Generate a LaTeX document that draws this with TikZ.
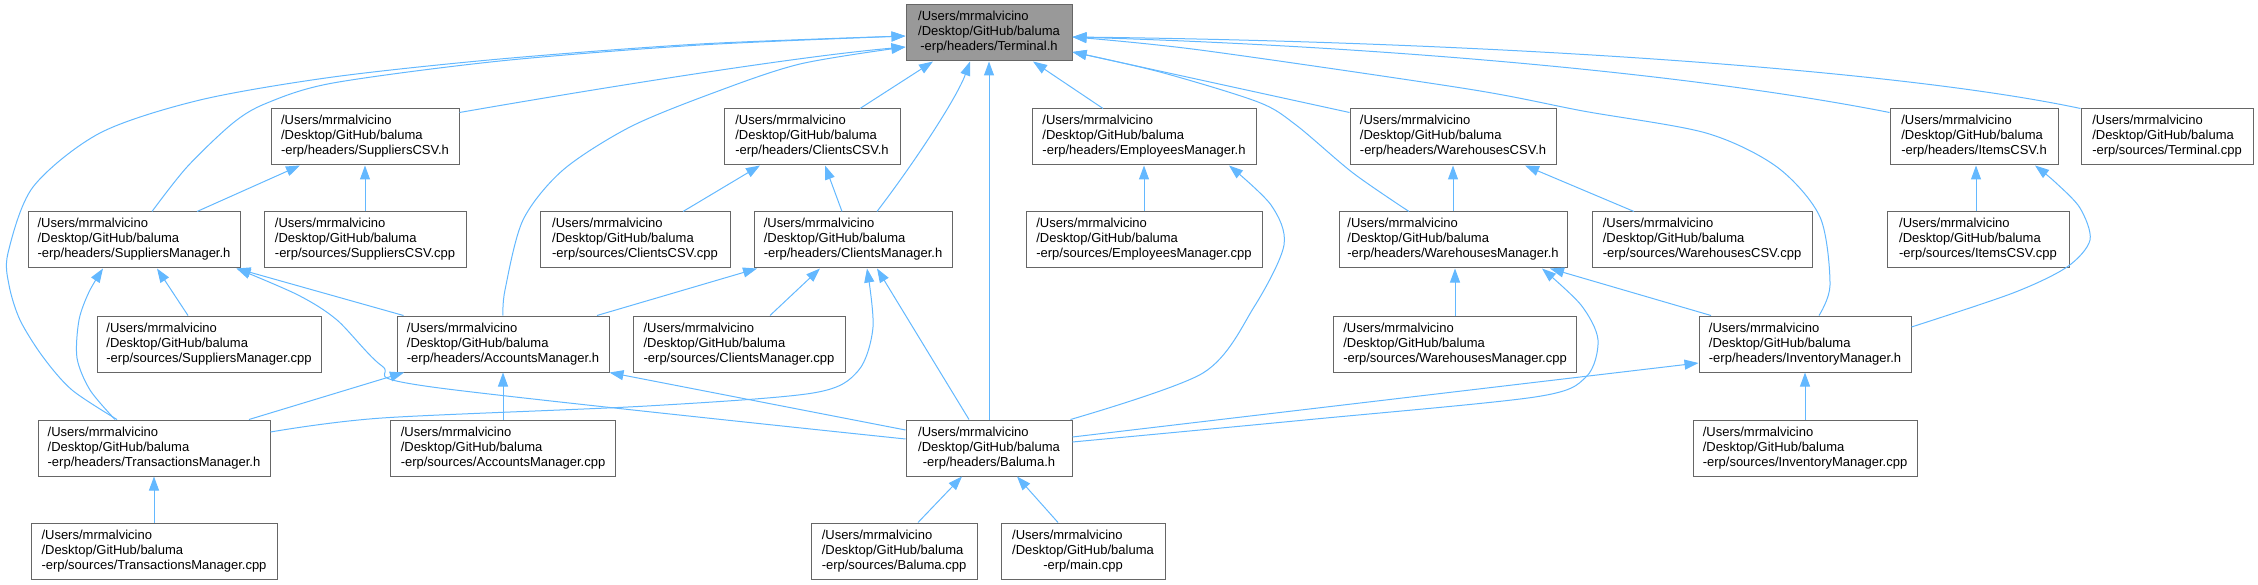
\documentclass[tikz,border=0pt]{standalone}
\usepackage{fontspec}
\setmainfont{Liberation Sans}
\usetikzlibrary{arrows.meta}
\definecolor{boxgray}{HTML}{666666}
\definecolor{termfill}{HTML}{999999}
\definecolor{edgeblue}{HTML}{63B8FF}
\newcommand\flab[1]{\begin{tabular}{@{}l@{}}/Users/mrmalvicino\\/Desktop/GitHub/baluma\\\multicolumn{1}{@{}c@{}}{#1}\end{tabular}}
\tikzset{
  filebox/.style={draw=boxgray, line width=1pt, fill=white, minimum height=56pt, inner sep=0pt, font=\fontsize{13}{15}\selectfont, text=black},
  mainbox/.style={filebox, fill=termfill},
  edge/.style={draw=edgeblue, line width=1pt, -{Triangle[length=14pt,width=10pt]}},
}
\begin{document}
\begin{tikzpicture}[x=1pt,y=-1pt]
\useasboundingbox (0,0) rectangle (2258,585);
% row 1
\node[mainbox, minimum width=166pt] (term) at (989,33) {\flab{-erp/headers/Terminal.h}};
% row 2
\node[filebox, minimum width=188pt] (supcsvh) at (365,137) {\flab{-erp/headers/SuppliersCSV.h}};
\node[filebox, minimum width=176pt] (clicsvh) at (812,137) {\flab{-erp/headers/ClientsCSV.h}};
\node[filebox, minimum width=224pt] (empmgrh) at (1144,137) {\flab{-erp/headers/EmployeesManager.h}};
\node[filebox, minimum width=206pt] (whcsvh) at (1453,137) {\flab{-erp/headers/WarehousesCSV.h}};
\node[filebox, minimum width=168pt] (itemcsvh) at (1974,137) {\flab{-erp/headers/ItemsCSV.h}};
\node[filebox, minimum width=172pt] (termcpp) at (2167,137) {\flab{-erp/sources/Terminal.cpp}};
% row 3
\node[filebox, minimum width=212pt] (supmgrh) at (134,240) {\flab{-erp/headers/SuppliersManager.h}};
\node[filebox, minimum width=202pt] (supcsvcpp) at (365,240) {\flab{-erp/sources/SuppliersCSV.cpp}};
\node[filebox, minimum width=190pt] (clicsvcpp) at (635,240) {\flab{-erp/sources/ClientsCSV.cpp}};
\node[filebox, minimum width=198pt] (climgrh) at (853,240) {\flab{-erp/headers/ClientsManager.h}};
\node[filebox, minimum width=236pt] (empmgrcpp) at (1144,240) {\flab{-erp/sources/EmployeesManager.cpp}};
\node[filebox, minimum width=228pt] (whmgrh) at (1453,240) {\flab{-erp/headers/WarehousesManager.h}};
\node[filebox, minimum width=220pt] (whcsvcpp) at (1702,240) {\flab{-erp/sources/WarehousesCSV.cpp}};
\node[filebox, minimum width=182pt] (itemcsvcpp) at (1978,240) {\flab{-erp/sources/ItemsCSV.cpp}};
% row 4
\node[filebox, minimum width=224pt] (supmgrcpp) at (209,344) {\flab{-erp/sources/SuppliersManager.cpp}};
\node[filebox, minimum width=212pt] (accmgrh) at (503,344) {\flab{-erp/headers/AccountsManager.h}};
\node[filebox, minimum width=212pt] (climgrcpp) at (739,344) {\flab{-erp/sources/ClientsManager.cpp}};
\node[filebox, minimum width=243pt] (whmgrcpp) at (1455,344) {\flab{-erp/sources/WarehousesManager.cpp}};
\node[filebox, minimum width=212pt] (invmgrh) at (1805,344) {\flab{-erp/headers/InventoryManager.h}};
% row 5
\node[filebox, minimum width=232pt] (transmgrh) at (154,448) {\flab{-erp/headers/TransactionsManager.h}};
\node[filebox, minimum width=225pt] (accmgrcpp) at (503,448) {\flab{-erp/sources/AccountsManager.cpp}};
\node[filebox, minimum width=166pt] (balumah) at (989,448) {\flab{-erp/headers/Baluma.h}};
\node[filebox, minimum width=224pt] (invmgrcpp) at (1805,448) {\flab{-erp/sources/InventoryManager.cpp}};
% row 6
\node[filebox, minimum width=246pt] (transmgrcpp) at (154,551) {\flab{-erp/sources/TransactionsManager.cpp}};
\node[filebox, minimum width=166pt] (balumacpp) at (894,551) {\flab{-erp/sources/Baluma.cpp}};
\node[filebox, minimum width=164pt] (maincpp) at (1083,551) {\flab{-erp/main.cpp}};

% ---- edges into Terminal.h
\draw[edge] ([yshift=-4pt]supcsvh.north east) .. controls (600,88) and (800,56) .. ([yshift=-14pt]term.west);
\draw[edge] plot[smooth] coordinates {([xshift=18pt]supmgrh.north) (187,167) (233,123) (267,103) (333,83) (500,61) (700,45) ([yshift=-3pt]term.west)};
\draw[edge] plot[smooth] coordinates {([xshift=-37pt]transmgrh.north) (72,390) (43,357) (20,320) (9,285) (8,253) (33,187) (100,133) (200,100) (333,77) (500,59) (700,44) ([yshift=-3pt]term.west)};
\draw[edge] plot[smooth] coordinates {(accmgrh.north) (505,290) (523,220) (563,170) (630,127) (713,93) (800,64) ([yshift=-14pt]term.west)};
\draw[edge] ([xshift=48pt]clicsvh.north) -- ([xshift=-56pt]term.south);
\draw[edge] ([xshift=24pt]climgrh.north) .. controls (920,155) and (958,95) .. ([xshift=-19pt]term.south);
\draw[edge] (balumah.north) -- (term.south);
\draw[edge] ([xshift=-41pt]empmgrh.north) -- ([xshift=44pt]term.south);
\draw[edge] (termcpp.north west) .. controls (1900,70) and (1500,42) .. ([yshift=-4pt]term.east);
\draw[edge] ([yshift=-4pt]itemcsvh.north west) .. controls (1700,75) and (1400,47) .. ([yshift=-4pt]term.east);
\draw[edge] plot[smooth] coordinates {([xshift=14pt]invmgrh.north) (1830,285) (1820,217) (1777,167) (1706,133) (1583,111) (1468,89) (1200,50) ([yshift=-4pt]term.east)};
\draw[edge] ([yshift=-4pt]whcsvh.north west) -- ([yshift=-19pt]term.east);
\draw[edge] plot[smooth] coordinates {([xshift=-44pt]whmgrh.north) (1353,173) (1296,125) (1258,102) (1160,72) ([yshift=-19pt]term.east)};
% ---- row 3 -> row 2
\draw[edge] ([xshift=63pt]supmgrh.north) -- ([xshift=-65pt]supcsvh.south);
\draw[edge] (supcsvcpp.north) -- (supcsvh.south);
\draw[edge] ([xshift=48pt]clicsvcpp.north) -- ([xshift=-52pt]clicsvh.south);
\draw[edge] ([xshift=-11pt]climgrh.north) -- ([xshift=13pt]clicsvh.south);
\draw[edge] (empmgrcpp.north) -- (empmgrh.south);
\draw[edge] plot[smooth] coordinates {([xshift=-2pt]balumah.north east) (1203,373) (1254,307) (1284,245) (1271,205) ([xshift=85pt]empmgrh.south)};
\draw[edge] (whmgrh.north) -- (whcsvh.south);
\draw[edge] ([xshift=-68pt]whcsvcpp.north) -- ([xshift=72pt]whcsvh.south);
\draw[edge] ([xshift=-2pt]itemcsvcpp.north) -- ([xshift=2pt]itemcsvh.south);
\draw[edge] plot[smooth] coordinates {([yshift=17pt]invmgrh.east) (2013,293) (2067,267) (2090,240) (2080,208) (2055,182) ([xshift=61pt]itemcsvh.south)};
% ---- into SuppliersManager.h
\draw[edge] ([xshift=-21pt]supmgrcpp.north) -- ([xshift=23pt]supmgrh.south);
\draw[edge] plot[smooth] coordinates {([xshift=-39pt]transmgrh.north) (90,390) (77,358) (79,320) (89,292) ([xshift=-31pt]supmgrh.south)};
\draw[edge] ([xshift=7pt]accmgrh.north west) -- ([xshift=-4pt]supmgrh.south east);
\draw[edge] plot[smooth] coordinates {([yshift=9pt]balumah.west) (432,387) (382,366) (337,320) (298,295) ([xshift=-4pt]supmgrh.south east)};
% ---- into ClientsManager.h
\draw[edge] ([xshift=94pt]accmgrh.north) -- ([xshift=-96pt]climgrh.south);
\draw[edge] ([xshift=31pt]climgrcpp.north) -- ([xshift=-33pt]climgrh.south);
\draw[edge] plot[smooth] coordinates {([yshift=16pt]transmgrh.east) (382,418) (647,406) (813,393) (858,371) (873,327) ([xshift=14pt]climgrh.south)};
\draw[edge] ([xshift=-20pt]balumah.north) -- ([xshift=24pt]climgrh.south);
% ---- into WarehousesManager.h
\draw[edge] (whmgrcpp.north) -- ([xshift=2pt]whmgrh.south);
\draw[edge] ([xshift=-94pt]invmgrh.north) -- ([xshift=97pt]whmgrh.south);
\draw[edge] plot[smooth] coordinates {([yshift=6pt]balumah.east) (1305,420) (1535,397) (1586,377) (1598,340) (1581,305) ([xshift=89pt]whmgrh.south)};
% ---- InventoryManager.h
\draw[edge] ([yshift=11pt]balumah.east) -- ([yshift=-19pt]invmgrh.west);
\draw[edge] (invmgrcpp.north) -- (invmgrh.south);
% ---- AccountsManager.h
\draw[edge] ([xshift=95pt]transmgrh.north) -- ([xshift=-99pt]accmgrh.south);
\draw[edge] (accmgrcpp.north) -- (accmgrh.south);
\draw[edge] ([yshift=18pt]balumah.west) -- (accmgrh.south east);
% ---- TransactionsManager.h, Baluma.h
\draw[edge] (transmgrcpp.north) -- (transmgrh.south);
\draw[edge] ([xshift=24pt]balumacpp.north) -- ([xshift=-27pt]balumah.south);
\draw[edge] ([xshift=-25pt]maincpp.north) -- ([xshift=28pt]balumah.south);
\end{tikzpicture}
\end{document}
